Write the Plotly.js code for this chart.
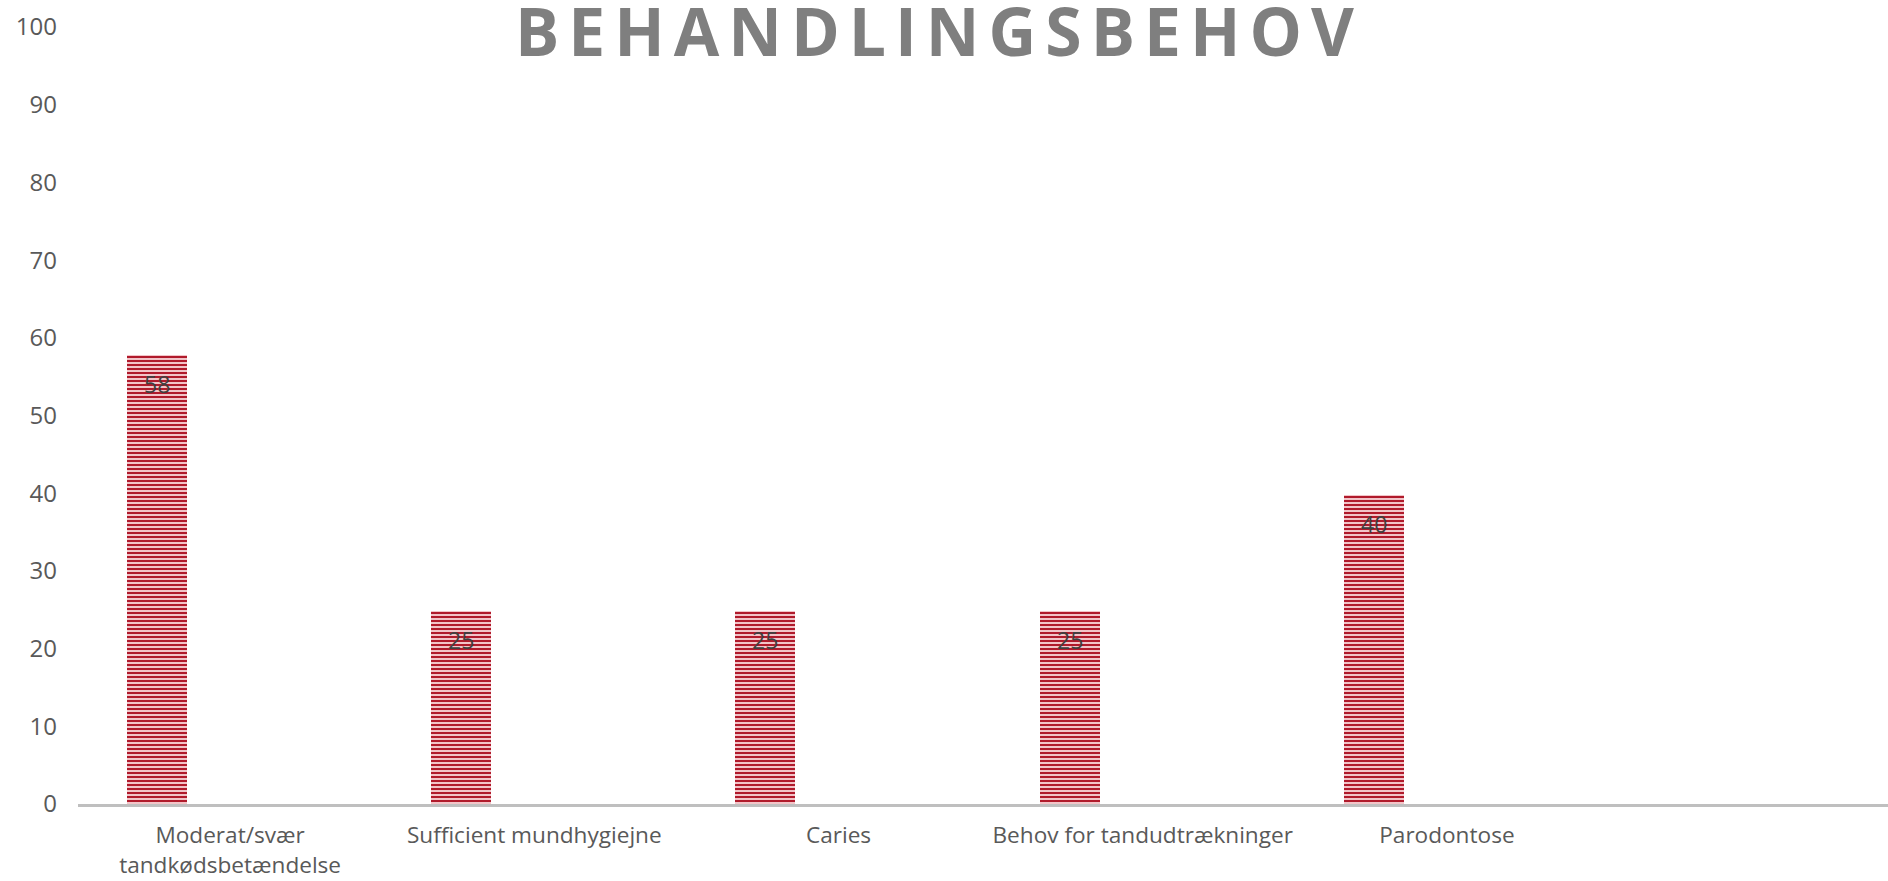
<!DOCTYPE html>
<html>
<head>
<meta charset="utf-8">
<script src="https://cdn.plot.ly/plotly-3.0.1.min.js"></script>
<style>
html, body { margin: 0; padding: 0; background: #ffffff; }
#chart { width: 1888px; height: 881px; }
#chart .gtitle { letter-spacing: 9px; }
</style>
</head>
<body>
<div id="chart"></div>
<script>
const categories = [
  "Moderat/svær<br>tandkødsbetændelse",
  "Sufficient mundhygiejne",
  "Caries",
  "Behov for tandudtrækninger",
  "Parodontose"
];
const values = [57.8, 24.8, 24.8, 24.8, 39.8];
const yTicks = [0, 10, 20, 30, 40, 50, 60, 70, 80, 90, 100];
const chartTitle = "BEHANDLINGSBEHOV";

const xIdx = categories.map((c, i) => i);
const barOffset = -0.339;
const barWidth = 0.197;

const trace = {
  type: "bar",
  x: xIdx,
  y: values,
  offset: barOffset,
  width: barWidth,
  marker: {
    color: "#f2c4c8",
    line: { width: 0 },
    pattern: {
      shape: "-",
      fgcolor: "#b01a2b",
      bgcolor: "#f2c4c8",
      size: 4,
      solidity: 0.5,
      fillmode: "replace"
    }
  },
  hoverinfo: "skip",
  showlegend: false
};

const annotations = values.map((v, i) => ({
  x: i + barOffset + barWidth / 2,
  y: v,
  xref: "x",
  yref: "y",
  text: String(Math.round(v)),
  showarrow: false,
  yanchor: "top",
  yshift: -11,
  font: { family: "Open Sans, sans-serif", size: 23, color: "#404040" }
}));

const layout = {
  width: 1888,
  height: 881,
  paper_bgcolor: "#ffffff",
  plot_bgcolor: "#ffffff",
  margin: { l: 78, r: 0, t: 27, b: 77, pad: 0 },
  title: {
    text: "<b>" + chartTitle + "</b>",
    font: { family: "Open Sans, sans-serif", size: 66, color: "#7f7f7f" },
    x: 898 / 1888,
    xref: "paper",
    xanchor: "center",
    yref: "container",
    y: 1 - 33 / 881,
    yanchor: "middle"
  },
  xaxis: {
    type: "linear",
    range: [-0.5, 5.45],
    tickvals: xIdx,
    ticktext: categories,
    showgrid: false,
    zeroline: false,
    showline: true,
    linecolor: "#bfbfbf",
    linewidth: 3,
    ticks: "",
    ticklabelstandoff: 9,
    tickfont: { family: "Open Sans, sans-serif", size: 22.6, color: "#595959" },
    fixedrange: true
  },
  yaxis: {
    range: [0, 100],
    tickvals: yTicks,
    showgrid: false,
    zeroline: false,
    showline: false,
    ticks: "",
    ticklabelstandoff: 20,
    tickfont: { family: "Open Sans, sans-serif", size: 24, color: "#595959" },
    fixedrange: true
  },
  annotations: annotations,
  bargap: 0
};

Plotly.newPlot("chart", [trace], layout, { displayModeBar: false, staticPlot: true });
</script>
</body>
</html>
